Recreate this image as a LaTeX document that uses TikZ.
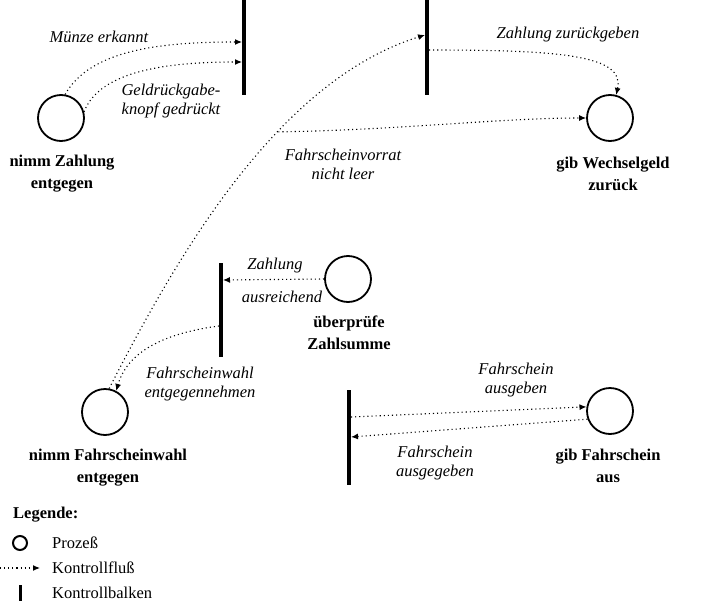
\documentclass[tikz,border=0pt]{standalone}
\usepackage{fontspec}
\setmainfont{Liberation Serif}
\usepackage{tikz}
\usetikzlibrary{arrows.meta}

\tikzset{
  proc/.style={circle, draw, line width=1.8pt, minimum size=46pt, inner sep=0pt},
  flow/.style={->, >={Latex[length=7pt,width=6pt]}, line width=1.1pt, dash pattern=on 1.1pt off 3pt},
  balken/.style={line width=4pt},
  lbl/.style={font=\itshape\fontsize{16.5}{19}\selectfont, align=center, inner sep=0pt},
  titel/.style={font=\bfseries\fontsize{16.5}{22}\selectfont, align=center, inner sep=0pt},
  leg/.style={font=\fontsize{16.5}{18}\selectfont, anchor=west, inner sep=0pt}
}

\begin{document}
\begin{tikzpicture}[x=1pt, y=-1pt]
\useasboundingbox (0,0) rectangle (721,616);
% Kontrollbalken
\coordinate (b1o) at (244,0);
\coordinate (b1u) at (244,95);
\coordinate (b2o) at (427,0);
\coordinate (b2u) at (427,95);
\coordinate (b3o) at (221,263);
\coordinate (b3u) at (221,357);
\coordinate (b4o) at (349,390);
\coordinate (b4u) at (349,485);
\draw[balken] (b1o) -- (b1u);
\draw[balken] (b2o) -- (b2u);
\draw[balken] (b3o) -- (b3u);
\draw[balken] (b4o) -- (b4u);
% Prozesse
\node[proc] (nz) at (61,118) {};
\node[proc] (wg) at (610,118) {};
\node[proc] (zs) at (348,279) {};
\node[proc] (fw) at (105,412) {};
\node[proc] (fa) at (610,411) {};
\node[titel] (tnz) at (62,174) {nimm Zahlung\\entgegen};
\node[titel] (twg) at (613,174) {gib Wechselgeld\\zur\"uck};
\node[titel] (tzs) at (349,333) {\"uberpr\"ufe\\Zahlsumme};
\node[titel] (tfw) at (108,468) {nimm Fahrscheinwahl\\entgegen};
\node[titel] (tfa) at (608,466) {gib Fahrschein\\aus};
% Anschlusspunkte
\coordinate (b1a) at (242,42);
\coordinate (b1b) at (242,62);
\coordinate (b2a) at (425,35);
\coordinate (b2b) at (429,50);
\coordinate (b3a) at (223,280);
\coordinate (b3b) at (219,326);
\coordinate (b4a) at (351,417);
\coordinate (b4b) at (351,437);
% Kontrollfluss
\draw[flow] (nz.80) .. controls (90,50) and (160,42) .. (b1a);
\draw[flow] (nz.15) .. controls (100,70) and (170,62) .. (b1b);
\draw[flow] (fw.80) .. controls (180,250) and (280,80) .. coordinate[pos=0.62] (fv) (b2a);
\draw[flow] (fv) .. controls (400,130) and (500,118) .. (wg.west);
\draw[flow] (b2b) .. controls (560,50) and (625,55) .. (wg.75);
\draw[flow] (zs.west) -- (b3a);
\draw[flow] (b3b) .. controls (150,335) and (125,360) .. (fw.62);
\draw[flow] (b4a) -- (fa.170);
\draw[flow] (fa.200) -- (b4b);
% Beschriftungen
\node[lbl] (lme) at (99,37) {M\"unze erkannt};
\node[lbl] (lgr) at (171,101) {Geldr\"uckgabe-\\knopf gedr\"uckt};
\node[lbl] (lfv) at (343,164) {Fahrscheinvorrat\\nicht leer};
\node[lbl] (lzz) at (568,35) {Zahlung zur\"uckgeben};
\node[lbl] (lza) at (275,266) {Zahlung};
\node[lbl] (lau) at (282,297) {ausreichend};
\node[lbl] (lfe) at (200,384) {Fahrscheinwahl\\entgegennehmen};
\node[lbl] (lfg) at (516,380) {Fahrschein\\ausgeben};
\node[lbl] (lfd) at (435,463) {Fahrschein\\ausgegeben};
% Legende
\node[leg, font=\bfseries\fontsize{16.5}{18}\selectfont] (leg) at (13,515) {Legende:};
\node[circle, draw, line width=2pt, minimum size=14pt, inner sep=0pt] (lkp) at (20,543) {};
\node[leg] (lpr) at (52,543) {Proze\ss};
\coordinate (lka) at (0,568);
\coordinate (lkb) at (40,568);
\draw[flow] (lka) -- (lkb);
\node[leg] (lkf) at (52,568) {Kontrollflu\ss};
\coordinate (lbo) at (20,585);
\coordinate (lbu) at (20,601);
\draw[line width=3pt] (lbo) -- (lbu);
\node[leg] (lkb) at (52,593) {Kontrollbalken};
\end{tikzpicture}
\end{document}
